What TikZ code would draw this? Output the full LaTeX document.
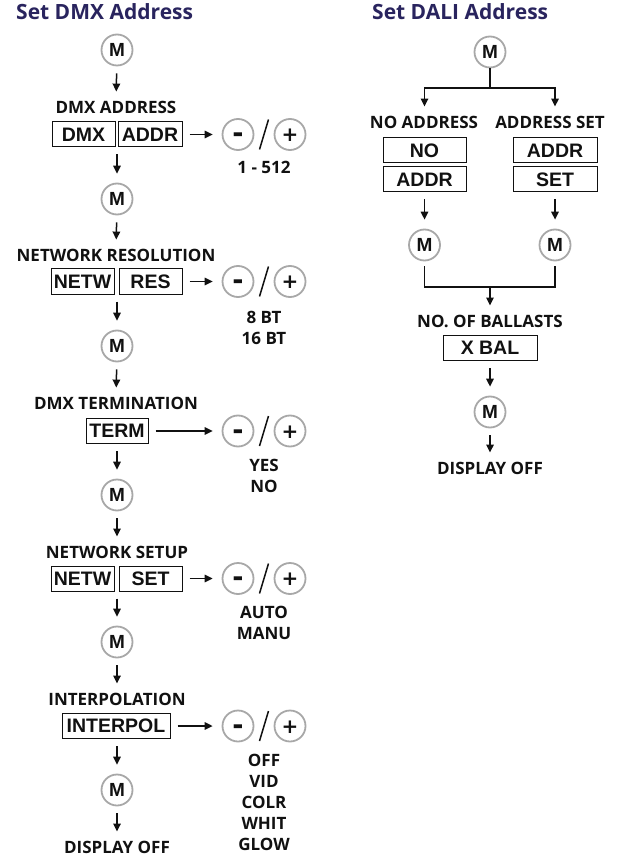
\documentclass[tikz,border=0pt]{standalone}
\usepackage{fontspec}
\setmainfont{Open Sans}
\newfontfamily\dispfont{Liberation Sans}
\newfontfamily\signfont{DejaVu Sans}
\usetikzlibrary{positioning,arrows.meta,calc}
\definecolor{ink}{HTML}{111111}
\definecolor{navy}{HTML}{29245E}
\definecolor{rim}{HTML}{A8A8A8}
\tikzset{
  btn/.style={circle, draw=rim, line width=1.8pt, minimum size=31pt, inner sep=0pt, font=\dispfont\bfseries\fontsize{19}{19}\selectfont, text=ink},
  minus/.style={btn, font=\signfont\bfseries\fontsize{27}{27}\selectfont, text height=16pt, text depth=0pt},
  plus/.style={btn, font=\signfont\bfseries\fontsize{20}{20}\selectfont, text height=14.5pt, text depth=0pt},
  disp/.style={draw=ink, line width=1pt, minimum height=25pt, inner sep=0pt, font=\dispfont\bfseries\fontsize{19.5}{19.5}\selectfont, text=ink},
  lbl/.style={inner sep=0pt, font=\bfseries\fontsize{17}{21}\selectfont, text=ink, align=center},
  ttl/.style={inner sep=0pt, font=\bfseries\fontsize{21}{21}\selectfont, text=navy},
}

\begin{document}
\begin{tikzpicture}[x=1pt, y=-1pt,
  arr/.style={-{Triangle[length=8pt,width=7.5pt]}, line width=1.5pt, draw=ink, shorten <=7pt, shorten >=9pt},
  link/.style={line width=1.5pt, draw=ink},
  slash/.style={line width=1.5pt, draw=ink}]
\useasboundingbox (0,0) rectangle (623,858);
% Set DMX Address
\node[ttl, anchor=west] (t1) at (16,12) {Set DMX Address};
\node[btn] (m1) at (117,50) {M};
\node[lbl] (l1) at (116,107) {DMX ADDRESS};
\node[disp, minimum width=63pt] (dmx) at (83.5,134.5) {DMX};
\node[disp, minimum width=64pt] (addr) at (150,134.5) {ADDR};
\node[minus] (mi1) at (238,134.5) {-};
\node[plus] (pl1) at (290,134.5) {+};
\node[lbl, anchor=north] (v1) at (264,161) {1 - 512};
\node[btn] (m2) at (117,199) {M};
\node[lbl] (l2) at (116,255) {NETWORK RESOLUTION};
\node[disp, minimum width=63pt] (netw) at (82.5,281.5) {NETW};
\node[disp, minimum width=63pt] (res) at (150.5,281.5) {RES};
\node[minus] (mi2) at (238,281.5) {-};
\node[plus] (pl2) at (290,281.5) {+};
\node[lbl, anchor=north] (v2) at (264,311) {8 BT\\16 BT};
\node[btn] (m3) at (117,346) {M};
\node[lbl] (l3) at (116,403) {DMX TERMINATION};
\node[disp, minimum width=62pt] (term) at (117,431) {TERM};
\node[minus] (mi3) at (238,431) {-};
\node[plus] (pl3) at (290,431) {+};
\node[lbl, anchor=north] (v3) at (264,459) {YES\\NO};
\node[btn] (m4) at (117,495) {M};
\node[lbl] (l4) at (117,552) {NETWORK SETUP};
\node[disp, minimum width=63pt] (netw2) at (82.5,578.5) {NETW};
\node[disp, minimum width=63pt] (set) at (150.5,578.5) {SET};
\node[minus] (mi4) at (238,578.5) {-};
\node[plus] (pl4) at (290,578.5) {+};
\node[lbl, anchor=north] (v4) at (264,606) {AUTO\\MANU};
\node[btn] (m5) at (117,642) {M};
\node[lbl] (l5) at (117,699) {INTERPOLATION};
\node[disp, minimum width=108pt] (ipol) at (116,726) {INTERPOL};
\node[minus] (mi5) at (238,726) {-};
\node[plus] (pl5) at (290,726) {+};
\node[lbl, anchor=north] (v5) at (264,754) {OFF\\VID\\COLR\\WHIT\\GLOW};
\node[btn] (m6) at (117,790) {M};
\node[lbl] (off1) at (117,847) {DISPLAY OFF};
\draw[arr] (m1) -- (l1); \draw[arr] (addr) -- (mi1); \draw[arr] (m2|-dmx.south) -- (m2);
\draw[arr] (m2) -- (l2); \draw[arr] (res) -- (mi2); \draw[arr] (m3|-netw.south) -- (m3);
\draw[arr] (m3) -- (l3); \draw[arr] (term) -- (mi3); \draw[arr] (term) -- (m4);
\draw[arr] (m4) -- (l4); \draw[arr] (set) -- (mi4); \draw[arr] (m5|-netw2.south) -- (m5);
\draw[arr] (m5) -- (l5); \draw[arr] (ipol) -- (mi5); \draw[arr] (m6|-ipol.south) -- (m6);
\draw[arr] (m6) -- (off1);
\draw[slash] ($(mi1)!0.5!(pl1)+(-4.5,15)$) -- ($(mi1)!0.5!(pl1)+(4.5,-15)$);
\draw[slash] ($(mi2)!0.5!(pl2)+(-4.5,15)$) -- ($(mi2)!0.5!(pl2)+(4.5,-15)$);
\draw[slash] ($(mi3)!0.5!(pl3)+(-4.5,15)$) -- ($(mi3)!0.5!(pl3)+(4.5,-15)$);
\draw[slash] ($(mi4)!0.5!(pl4)+(-4.5,15)$) -- ($(mi4)!0.5!(pl4)+(4.5,-15)$);
\draw[slash] ($(mi5)!0.5!(pl5)+(-4.5,15)$) -- ($(mi5)!0.5!(pl5)+(4.5,-15)$);
% Set DALI Address
\node[ttl, anchor=west] (t2) at (372,12) {Set DALI Address};
\node[btn] (d1) at (490,52) {M};
\coordinate (split) at (490,88);
\node[lbl] (noad) at (424,122) {NO ADDRESS};
\node[lbl] (adset) at (550,122) {ADDRESS SET};
\node[disp, minimum width=83pt] (no) at (424.5,150.5) {NO};
\node[disp, minimum width=83pt] (addr1) at (424.5,179.5) {ADDR};
\node[disp, minimum width=84pt] (addr2) at (555,150.5) {ADDR};
\node[disp, minimum width=84pt] (set2) at (555,179.5) {SET};
\node[btn] (d2) at (424.5,245) {M};
\node[btn] (d3) at (555,245) {M};
\coordinate (merge) at (490,287);
\node[lbl] (nob) at (490,321) {NO. OF BALLASTS};
\node[disp, minimum width=94pt] (xbal) at (490,348) {X BAL};
\node[btn] (d4) at (490,412) {M};
\node[lbl] (off2) at (490,468) {DISPLAY OFF};
\draw[link] (d1) -- (split);
\draw[arr, shorten <=0pt] (split) -| (noad.north-|no);
\draw[arr, shorten <=0pt] (split) -| (adset.north-|addr2);
\draw[arr] (addr1) -- (d2); \draw[arr] (set2) -- (d3);
\draw[link, shorten <=5pt] (d2) |- (merge); \draw[link, shorten <=5pt] (d3) |- (merge);
\draw[arr, shorten <=0pt] (merge) -- (nob);
\draw[arr] (xbal) -- (d4); \draw[arr] (d4) -- (off2);
\end{tikzpicture}
\end{document}
